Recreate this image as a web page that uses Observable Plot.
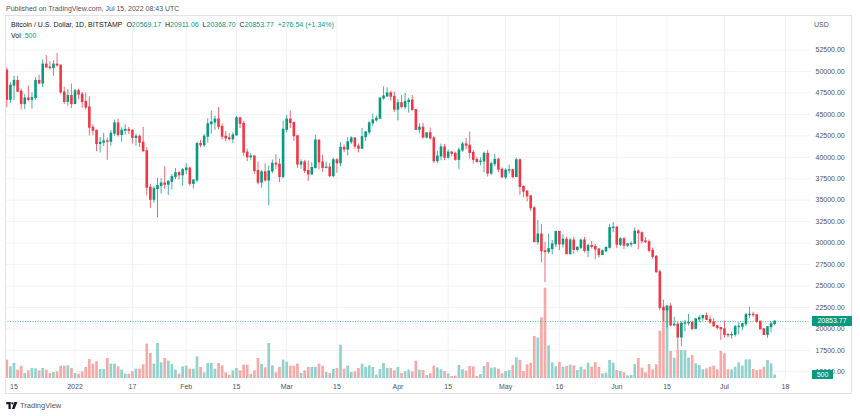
<!DOCTYPE html>
<html><head><meta charset="utf-8">
<script src="https://cdn.jsdelivr.net/npm/d3@7"></script>
<script src="https://cdn.jsdelivr.net/npm/@observablehq/plot@0.6"></script>
<style>
html,body{margin:0;padding:0;background:#fff;}
#wrap{position:relative;width:860px;height:416px;overflow:hidden;font-family:"Liberation Sans",Arial,sans-serif;color:#131722;}
#wrap svg.layer{position:absolute;left:0;top:0;}
.t{position:absolute;white-space:nowrap;font-size:7px;line-height:9px;}
.g{color:#089981;}
.box{position:absolute;background:#089981;color:#fff;font-size:7px;text-align:center;white-space:nowrap;}
</style></head><body><div id="wrap"></div>
<script>
const startDate = "2021-12-13";
const open = [
50100,46700,48350,48900,47650,46200,46850,46700,46900,48900,
48600,50800,50450,50400,50800,50700,47550,46450,47150,46200,
47700,47300,46450,45800,43450,43100,41550,41700,41850,41800,
42750,43950,42600,43100,43200,43100,42250,42400,41700,40700,
36450,35050,36300,36650,36950,36800,37150,37700,38150,37900,
38500,38700,36900,37300,41550,41400,42400,43850,44050,44400,
43550,42400,42200,42100,42550,44550,43900,40550,40000,40100,
38400,37050,38250,37300,38350,39250,39150,37700,43200,44400,
44000,42450,39150,39400,38400,38000,38750,41950,39400,38750,
38800,37800,39650,39300,41100,40900,41750,42200,41250,41000,
42350,42900,43950,44300,44500,46850,47100,47450,47050,45550,
46300,45850,46450,46600,45500,43200,43450,42300,42800,42200,
39550,40100,41150,39950,40550,40400,39700,40800,41500,41350,
40500,39700,39450,39500,40400,38100,39200,39700,38550,37650,
38450,38500,37700,39650,36550,36000,35450,34050,30100,31000,
29050,28950,29300,29850,31300,29850,30400,28700,30300,29200,
29450,30300,29100,29650,29550,29250,28600,29050,29450,31750,
31800,29800,30450,29700,29850,29900,31350,31150,30200,30100,
29100,28400,26600,22450,22150,22600,20400,20500,19000,20600,
20650,20700,20000,21100,21250,21500,21050,20750,20300,20100,
19950,19300,19250,19300,20200,20250,20550,21600,21650,21600,
20850,19950,19300,20200,20569.17];
const high = [
50400,48700,49450,49450,47950,47300,48300,47500,49300,49550,
51350,51850,51150,51250,52100,50700,48150,47900,48550,47900,
47950,47550,47500,47050,43750,43150,42300,42800,42250,43100,
44350,44450,43450,43800,43500,43200,42700,42600,43500,41100,
36850,36550,37550,37500,38900,37250,38000,38700,38350,38700,
39250,38850,37400,41700,42000,42650,44500,45400,44800,45800,
43900,43000,42750,42850,44750,44600,44200,40950,40450,40150,
39450,38450,39250,39000,39700,40300,39800,44200,44900,45400,
44100,42500,39700,39650,39550,39350,42550,42000,40250,39450,
39300,39900,39850,41700,41450,42300,42400,42300,41550,43350,
43000,44200,45050,44800,46900,48200,48100,47700,47600,46700,
47200,47450,46900,47200,45500,43900,43950,42800,43400,42400,
40700,41550,41500,40850,40700,40600,41100,41750,42200,42950,
40800,39950,39950,40600,40800,39450,40350,39900,38750,38650,
39100,38600,39900,39800,36650,36100,35500,34250,32650,32150,
30100,31050,30300,31350,31300,31000,30700,30550,30700,29600,
30450,30650,29850,30200,29850,29350,29200,29500,32200,32400,
31950,30650,30650,29950,30150,31750,31550,31300,30650,30350,
29400,28550,26850,23350,22750,22950,21350,20750,20800,21000,
21700,20900,21250,21550,21600,21850,21500,21200,20400,20150,
20900,19450,19650,20400,20700,20650,21800,22500,21950,21600,
20850,20050,20250,20850,20911.06];
const low = [
45800,46300,46600,47550,45500,45550,46450,45600,46650,48450,
48100,50450,50150,49450,50500,47350,46150,45950,45700,46200,
46700,45700,45500,42500,42500,40650,40500,41250,39650,41300,
42450,42350,41750,42600,42650,41550,41300,41150,40600,35500,
34050,34650,32950,35700,36250,35550,36200,37400,37350,36650,
38000,36600,36300,37050,41100,41150,41650,42700,43150,43200,
42000,41800,41900,41600,42450,43350,40100,39500,39650,38000,
36800,36400,37100,34350,38100,38600,37050,37500,42850,43350,
41850,38700,38600,38100,37200,37900,38650,38550,38250,38650,
37600,37600,38150,38900,40550,40150,41500,40950,40500,40900,
41850,42600,43600,44100,44400,46650,46950,46550,45200,44250,
45650,45550,45150,45400,43150,42750,42150,42150,42000,39250,
39250,39600,39600,39800,40050,39550,38550,40600,40850,39800,
39200,39300,39000,38200,37700,37900,38900,38200,37600,37400,
38050,37500,37650,35600,35300,34800,33700,30050,29750,27700,
25400,28700,28650,29450,29100,29450,28650,28650,28700,28950,
29250,28850,28300,29300,28050,28250,28550,28850,29300,31200,
29350,29600,29250,29500,29500,29850,29250,29900,29950,28850,
28100,26500,22100,20850,20100,20250,20250,17600,17950,19650,
20350,19800,19900,20750,20900,20950,20550,20200,19850,18650,
18950,18950,18800,19050,19300,19800,20250,21200,21350,20650,
19900,19250,18900,19600,20368.70];
const close = [
46700,48350,48900,47650,46200,46850,46700,46900,48900,48600,
50800,50450,50400,50800,50700,47550,46450,47150,46200,47700,
47300,46450,45800,43450,43100,41550,41700,41850,41800,42750,
43950,42600,43100,43200,43100,42250,42400,41700,40700,36450,
35050,36300,36650,36950,36800,37150,37700,38150,37900,38500,
38700,36900,37300,41550,41400,42400,43850,44050,44400,43550,
42400,42200,42100,42550,44550,43900,40550,40000,40100,38400,
37050,38250,37300,38350,39250,39150,37700,43200,44400,44000,
42450,39150,39400,38400,38000,38750,41950,39400,38750,38800,
37800,39650,39300,41100,40900,41750,42200,41250,41000,42350,
42900,43950,44300,44500,46850,47100,47450,47050,45550,46300,
45850,46450,46600,45500,43200,43450,42300,42800,42200,39550,
40100,41150,39950,40550,40400,39700,40800,41500,41350,40500,
39700,39450,39500,40400,38100,39200,39700,38550,37650,38450,
38500,37700,39650,36550,36000,35450,34050,30100,31000,29050,
28950,29300,29850,31300,29850,30400,28700,30300,29200,29450,
30300,29100,29650,29550,29250,28600,29050,29450,31750,31800,
29800,30450,29700,29850,29900,31350,31150,30200,30100,29100,
28400,26600,22450,22150,22600,20400,20500,19000,20600,20650,
20700,20000,21100,21250,21500,21050,20750,20300,20100,19950,
19300,19250,19300,20200,20250,20550,21600,21650,21600,20850,
19950,19300,20200,20550,20853.77];
const volume = [
2750,1750,2250,1250,1850,750,1150,1500,1450,1150,
1500,1250,750,900,1000,1850,1850,1900,1500,750,
650,1000,1650,2850,2150,2500,1350,1350,3000,2150,
2150,1750,1250,650,650,1000,1400,1400,2050,5150,
3750,2150,5250,2350,3000,2600,2100,1250,650,1750,
1850,1400,1400,3250,1650,850,2250,2250,1400,2250,
1900,850,500,1150,1500,1150,2000,2000,650,1150,
3000,2100,1600,5250,1900,850,1650,2750,2450,1850,
1850,2150,750,1150,1650,1650,1650,2150,1850,900,
750,1350,1500,5000,1400,1850,900,1000,1500,2150,
1650,1900,1650,500,1350,2250,1500,1500,1150,1650,
750,1000,1250,1000,2600,1250,1200,450,700,1850,
1600,1300,1050,700,300,350,1950,1300,1100,1800,
1750,300,600,1800,2400,1550,1600,1400,700,1050,
1200,1950,3100,2700,1050,2050,2300,6300,6050,9100,
13550,4900,2350,1750,2400,1700,1800,2000,1900,1200,
1700,1300,2300,1700,2400,1700,700,800,2700,2300,
1200,1050,850,400,450,2100,3000,1550,850,2100,
1300,2050,7100,10700,10800,4050,3050,4300,4200,4200,
3050,3450,2200,1950,1300,1450,1700,1850,1300,4050,
3700,1300,1300,1700,2350,1850,2800,2800,1350,1200,
1300,1700,2700,2200,500];
const tickDates = ["2021-12-15","2022-01-01","2022-01-17","2022-02-01","2022-02-15","2022-03-01","2022-03-15","2022-04-01","2022-04-15","2022-05-01","2022-05-16","2022-06-01","2022-06-15","2022-07-01","2022-07-18"];
const tickLabels = ["15","2022","17","Feb","15","Mar","15","Apr","15","May","16","Jun","15","Jul","18"];
const priceTicks = [15000,17500,20000,22500,25000,27500,30000,32500,35000,37500,40000,42500,45000,47500,50000,52500];

const UP = "#089981", DOWN = "#f23645", VUP = "#92d2cc", VDOWN = "#f7a9a7";
const start = new Date(startDate + "T00:00:00Z");
const data = open.map((o, i) => ({
  date: d3.utcDay.offset(start, i), open: o, high: high[i], low: low[i], close: close[i],
  volume: volume[i], up: close[i] >= o
}));
const ups = data.filter(d => d.up), downs = data.filter(d => !d.up);
const tDates = tickDates.map(s => new Date(s + "T00:00:00Z"));
const labelMap = new Map(tDates.map((d, i) => [+d, tickLabels[i]]));

const W = 860, H = 416, ML = 5, MR = 50, MT = 15, MB = 36;
const pxPerDay = 3.588;
const xStart = new Date(Date.UTC(2021, 11, 15) - (13.5 - ML) / pxPerDay * 864e5);
const xEnd = new Date(+xStart + (W - ML - MR) / pxPerDay * 864e5);
const xDomain = [xStart, xEnd];
const yDomain = [13986, 56527];
const font = {fontFamily: '"Liberation Sans", Arial, sans-serif', fontSize: "7px", color: "#50535e", background: "transparent", overflow: "visible"};

const wrap = document.getElementById("wrap");

// Layer A: grid + axes
const gridPlot = Plot.plot({
  width: W, height: H, marginLeft: ML, marginRight: MR, marginTop: MT, marginBottom: MB,
  style: font,
  x: {type: "utc", domain: xDomain, ticks: tDates, tickFormat: d => labelMap.get(+d) ?? "", tickSize: 0, tickPadding: 4, label: null},
  y: {domain: yDomain, axis: "right", ticks: priceTicks, tickFormat: d => d.toFixed(2), tickSize: 0, tickPadding: 5, label: null},
  marks: [
    Plot.ruleY(priceTicks, {stroke: "#f0f3fa", strokeWidth: 1}),
    Plot.ruleX(tDates, {stroke: "#f0f3fa", strokeWidth: 1})
  ]
});
gridPlot.classList.add("layer");
wrap.appendChild(gridPlot);

// Layer B: volume
const VMT = 278, VMB = H - 378;
const volPlot = Plot.plot({
  width: W, height: H, marginLeft: ML, marginRight: MR, marginTop: VMT, marginBottom: VMB,
  style: font,
  x: {type: "utc", domain: xDomain, axis: null},
  y: {domain: [0, 15000], axis: null},
  marks: [
    Plot.ruleX(ups, {x: "date", y1: 0, y2: "volume", stroke: VUP, strokeWidth: 2.7}),
    Plot.ruleX(downs, {x: "date", y1: 0, y2: "volume", stroke: VDOWN, strokeWidth: 2.7})
  ]
});
volPlot.classList.add("layer");
wrap.appendChild(volPlot);

// Layer C: candles
const lastClose = close[close.length - 1];
const candlePlot = Plot.plot({
  width: W, height: H, marginLeft: ML, marginRight: MR, marginTop: MT, marginBottom: MB,
  style: font,
  x: {type: "utc", domain: xDomain, axis: null},
  y: {domain: yDomain, axis: null},
  marks: [
    Plot.ruleY([lastClose], {stroke: "#22ab94", strokeWidth: 1, strokeOpacity: 0.8, strokeDasharray: "1,1.5"}),
    Plot.ruleX(ups, {x: "date", y1: "low", y2: "high", stroke: UP, strokeWidth: 1, strokeOpacity: 0.75}),
    Plot.ruleX(downs, {x: "date", y1: "low", y2: "high", stroke: DOWN, strokeWidth: 1, strokeOpacity: 0.75}),
    Plot.ruleX(ups, {x: "date", y1: "close", y2: "open", stroke: UP, strokeWidth: 2.6, insetTop: -0.5, insetBottom: -0.5}),
    Plot.ruleX(downs, {x: "date", y1: "open", y2: "close", stroke: DOWN, strokeWidth: 2.6, insetTop: -0.5, insetBottom: -0.5})
  ]
});
candlePlot.classList.add("layer");
wrap.appendChild(candlePlot);

function addDiv(cls, html, css) {
  const d = document.createElement("div");
  d.className = cls; d.innerHTML = html; Object.assign(d.style, css); wrap.appendChild(d); return d;
}
// frame
addDiv("", "", {position: "absolute", left: "5px", top: "15px", width: "847px", height: "379px", border: "1px solid #e0e3eb", boxSizing: "border-box", pointerEvents: "none"});
addDiv("t", "Published on TradingView.com, Jul 15, 2022 08:43 UTC", {left: "6px", top: "4px", color: "#50535e"});
const last = data[data.length - 1];
addDiv("t", `Bitcoin / U.S. Dollar, 1D, BITSTAMP&nbsp;&nbsp;O<span class="g">${last.open.toFixed(2)}</span>&nbsp;&nbsp;H<span class="g">${last.high.toFixed(2)}</span>&nbsp;&nbsp;L<span class="g">${last.low.toFixed(2)}</span>&nbsp;&nbsp;C<span class="g">${last.close.toFixed(2)}</span>&nbsp;&nbsp;<span class="g">+276.54 (+1.34%)</span>`, {left: "11px", top: "20px", color: "#131722"});
addDiv("t", `Vol&nbsp;&nbsp;<span class="g">${last.volume}</span>`, {left: "11px", top: "31px", color: "#131722"});
addDiv("t", "USD", {left: "814px", top: "20px", color: "#50535e"});

const yp = candlePlot.scale("y").apply(lastClose);
addDiv("box", lastClose.toFixed(2), {left: "812px", top: (yp - 5) + "px", width: "40px", height: "10px", lineHeight: "10px"});
const yv = volPlot.scale("y").apply(last.volume);
addDiv("box", String(last.volume), {left: "812px", top: (yv - 4.5) + "px", width: "21px", height: "9px", lineHeight: "9px"});

// logo
addDiv("", `<svg width="12" height="7" viewBox="0 0 36 22" style="display:block"><path d="M0 0h14v22h-7v-15h-7z" fill="#131722"/><circle cx="19" cy="4" r="3.6" fill="#131722"/><path d="M25 0h10l-9 22h-8z" fill="#131722"/></svg>`, {position: "absolute", left: "6px", top: "402px"});
addDiv("t", "TradingView", {left: "20px", top: "401px", fontSize: "7.5px", color: "#50535e"});
</script></body></html>
